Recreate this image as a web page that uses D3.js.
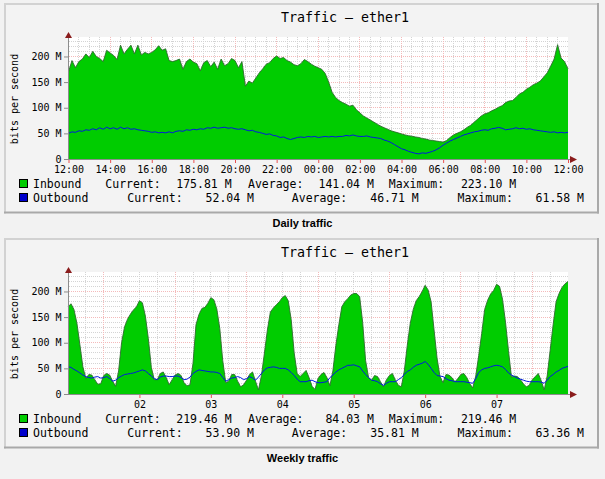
<!DOCTYPE html>
<html><head><meta charset="utf-8">
<script src="https://cdn.jsdelivr.net/npm/d3@7"></script>
<style>
html,body{margin:0;padding:0;background:#f2f2f2;}
svg{display:block;}
text{font-family:"DejaVu Sans Mono",monospace;fill:#000;}
</style></head><body>
<svg id="chart" width="605" height="479"></svg>
<script>
// ---------- data ----------
const titles = ["Traffic – ether1", "Traffic – ether1"];
const captions = ["Daily traffic", "Weekly traffic"];
const yAxisLabel = "bits per second";
const yTicks = [0, 50, 100, 150, 200];

const dailyTickLabels = ["12:00","14:00","16:00","18:00","20:00","22:00","00:00","02:00","04:00","06:00","08:00","10:00","12:00"];
const weeklyTickLabels = ["02","03","04","05","06","07"];

// daily: one sample every 10 minutes from 12:00 to 12:00 (Mbit/s)
const dailyInbound = [170,192,178,190,195,205,198,210,200,196,
 190,212,207,202,194,222,205,214,222,205,
 222,203,208,205,208,213,221,212,215,192,
 190,192,195,175,190,195,189,186,172,188,
 192,180,189,175,195,182,186,196,192,178,
 190,142,152,148,158,168,176,185,188,196,
 201,196,198,192,189,184,182,186,194,190,
 185,181,178,175,167,150,130,120,114,110,
 107,103,105,96,90,84,80,76,72,68,
 64,61,58,55,53,51,49,47,45.5,44.5,
 43,42,40,39,37,36,35,34,33,36,
 42,47,50,53,57,62,66,72,78,84,
 88,90,94,97,101,104,110,113,114,120,
 127,130,136,140,145,148,152,160,168,181,
 195,223.1,197,190,175.81];
const dailyOutbound = [50,53,52,55,54,57,56,59,57,61,
 58,62,59,61,58,62,59,61,58,59,
 57,56,55,54,52,53,51,52,51,53,
 51,54,55,54,57,56,58,57,59,58,
 61,60,62,60,61,62,60,61,59,58,
 59,57,55,56,53,52,50,48,49,46,
 45,42,43,40,38,40,42,43,42,44,
 43,44,42,43,44,43,44,43,44,44,
 46,45,47,45,44,44,45,43,42,41,
 40,37,35,32,28,24,20,18,15,13,
 11,10,12,11,13,15,18,22,27,31,
 35,38,41,44,47,49,51,53,54,56,
 57,56,59,60,61.58,60,57,58,59,61,
 59,60,58,59,57,56,55,54,53,52,
 53,51,52,51,52.04];

// weekly: one sample per hour over 7 days (Mbit/s)
const weeklyInbound = [170,176,165,138,96,53,30,38,37,28,
 19,20,36,40,37,25,15,45,100,131,
 146,156,164,170,182,178,152,108,52,28,
 28,40,43,32,18,28,37,40,36,22,
 16,18,60,135,155,167,169,177,188,184,
 166,128,65,22,25,38,38,25,14,18,
 27,38,43,25,8,36,80,125,160,168,
 174,180,188,192,182,145,80,40,34,40,
 46,32,15,9,30,38,42,32,16,45,
 95,135,170,180,186,193,196,196,190,140,
 65,32,27,36,34,24,14,28,36,40,
 27,17,14,45,95,138,165,182,190,200,
 212,203,180,125,70,34,22,38,37,32,
 24,30,38,40,32,20,12,35,75,118,
 165,183,195,202,214,210,185,140,85,33,
 35,34,28,20,14,17,28,34,40,26,
 8,35,85,135,180,196,208,215,219.46];
const weeklyOutbound = [53,52,48,45,41,37,34,32,31,33,
 34,31,32,34,30,25,27,32,35,38,
 39,40,41,43,45,47,45,40,35,30,
 28,33,35,35,34,34,35,35,32,28,
 29,33,40,44,47,46,45,44,43,43,
 42,40,32,25,28,31,32,34,32,28,
 30,34,31,27,33,40,47,51,52,53,
 52,50,50,50,47,42,36,29,24,24,
 24,26,27,24,22,22,23,24,32,37,
 43,47,50,53,56,56,57,55,53,45,
 38,32,27,26,24,20,17,21,24,24,
 24,28,32,38,44,47,52,56,58,60,
 63.36,58,50,42,36,35,34,30,27,26,
 24,24,24,24,23,22,21,30,42,47,
 50,51,53,55,56,55,53,48,41,37,
 34,31,29,27,25,24,24,24,24,23,
 21,27,34,38,43,46,50,52,53.9];

const seriesNames = ["Inbound", "Outbound"];
const statNames = ["Current:", "Average:", "Maximum:"];
const dailyInStats = ["175.81 M","141.04 M","223.10 M"];
const dailyOutStats = ["52.04 M","46.71 M","61.58 M"];
const weeklyInStats = ["219.46 M","84.03 M","219.46 M"];
const weeklyOutStats = ["53.90 M","35.81 M","63.36 M"];

// ---------- drawing ----------
const svg = d3.select("#chart");
const crisp = v => Math.round(v - 0.5) + 0.5;
const COL = {in:"#00cc00", inEdge:"#2d6b2d", out:"#0018e0", arrow:"#8a1c1c",
             axis:"#8c8c8c", minor:"#d4d4d4", major:"#f4baba", tick:"#e85050"};

function drawPanel(p) {
  const g = svg.append("g").attr("transform", `translate(0,${p.dy})`);
  // panel frame
  g.append("rect").attr("x",5).attr("y",4).attr("width",593).attr("height",208.5).attr("fill","#f3f3f3");
  g.append("line").attr("x1",4).attr("x2",599).attr("y1",4).attr("y2",4).attr("stroke","#d2d2d2").attr("stroke-width",2);
  g.append("line").attr("x1",5).attr("x2",5).attr("y1",3).attr("y2",213.5).attr("stroke","#d2d2d2").attr("stroke-width",2);
  g.append("line").attr("x1",4).attr("x2",599).attr("y1",212.5).attr("y2",212.5).attr("stroke","#a9a9a9").attr("stroke-width",2);
  g.append("line").attr("x1",598).attr("x2",598).attr("y1",3).attr("y2",213.5).attr("stroke","#a9a9a9").attr("stroke-width",2);

  const x = d3.scaleLinear().domain(p.xDomain).range(p.xRange);
  const y = d3.scaleLinear().domain([0, 238]).range([159, 37]);

  // plot background
  g.append("rect").attr("x",69).attr("y",37).attr("width",499).attr("height",122).attr("fill","#fff");

  // grid
  const grid = g.append("g").attr("shape-rendering","crispEdges");
  const vline = (v, c) => grid.append("line").attr("x1",crisp(x(v))).attr("x2",crisp(x(v)))
      .attr("y1",37).attr("y2",159).attr("stroke",c).attr("stroke-dasharray","1,1");
  const hline = (v, c) => grid.append("line").attr("x1",69).attr("x2",568)
      .attr("y1",crisp(y(v))).attr("y2",crisp(y(v))).attr("stroke",c).attr("stroke-dasharray","1,1");
  p.minorX.forEach(v => vline(v, COL.minor));
  d3.range(10, 238, 10).forEach(v => hline(v, COL.minor));
  p.majorX.forEach(v => vline(v, COL.major));
  yTicks.filter(v => v > 0).forEach(v => hline(v, COL.major));

  // inbound area
  const tx = (d, i) => x(i * p.step);
  const area = d3.area().x(tx).y0(y(0)).y1(d => y(d));
  g.append("path").datum(p.inbound).attr("d", area).attr("fill", COL.in);
  g.append("path").datum(p.inbound).attr("d", d3.line().x(tx).y(d => y(d)))
    .attr("fill","none").attr("stroke",COL.inEdge).attr("stroke-width",0.9);
  // outbound line
  g.append("path").datum(p.outbound).attr("d", d3.line().x(tx).y(d => y(d)))
    .attr("fill","none").attr("stroke",COL.out).attr("stroke-width",1);

  // y axis
  const ya = g.append("g").attr("transform","translate(68,0)")
    .call(d3.axisLeft(y).tickValues(yTicks).tickSize(4).tickPadding(2.5)
      .tickFormat(d => d === 0 ? "0" : d + " M"));
  ya.select(".domain").remove();
  ya.selectAll("line").attr("stroke",COL.axis);
  ya.selectAll("text").attr("font-family","DejaVu Sans Mono").attr("font-size",10).attr("fill","#000");

  // x axis
  const xa = g.append("g").attr("transform","translate(0,159)")
    .call(d3.axisBottom(x).tickValues(p.tickValues).tickSize(4).tickPadding(2.5)
      .tickFormat((d, i) => p.tickLabels[i]));
  xa.select(".domain").remove();
  xa.selectAll("line").attr("stroke",COL.tick);
  xa.selectAll("text").attr("font-family","DejaVu Sans Mono").attr("font-size",10).attr("fill","#000");

  // axis lines + arrows
  g.append("line").attr("x1",68.5).attr("x2",68.5).attr("y1",159).attr("y2",36).attr("stroke",COL.axis);
  g.append("line").attr("x1",68).attr("x2",571).attr("y1",159.5).attr("y2",159.5).attr("stroke",COL.axis);
  g.append("path").attr("d","M68.5,32 L72,38 L65,38 Z").attr("fill",COL.arrow);
  g.append("path").attr("d","M577,159.5 L570,156 L570,163 Z").attr("fill",COL.arrow);

  // title
  g.append("text").attr("x",345).attr("y",21.7).attr("text-anchor","middle")
    .attr("font-size",13.3).text(p.title);
  // y label
  g.append("text").attr("transform","translate(17.5,99) rotate(-90)").attr("text-anchor","middle")
    .attr("font-size",10).text(yAxisLabel);

  // legend
  const rows = [
    {name: seriesNames[0], color: COL.in, stats: p.inStats, base: 188,
     nameX: [105.3, 248, 388.8], valEnd: [231.6, 373.9, 516.3]},
    {name: seriesNames[1], color: "#0000cc", stats: p.outStats, base: 202,
     nameX: [127.3, 291.8, 457.5], valEnd: [254, 418.7, 584]}
  ];
  rows.forEach(r => {
    g.append("rect").attr("x",19.5).attr("y",r.base - 8.5).attr("width",8).attr("height",8)
      .attr("fill",r.color).attr("stroke","#000").attr("stroke-width",1);
    g.append("text").attr("x",33).attr("y",r.base).attr("font-size",11.5).text(r.name);
    statNames.forEach((s, k) => {
      g.append("text").attr("x",r.nameX[k]).attr("y",r.base).attr("font-size",11.5).text(s);
      g.append("text").attr("x",r.valEnd[k]).attr("y",r.base).attr("font-size",11.5)
        .attr("text-anchor","end").text(r.stats[k]);
    });
  });

  // caption
  g.append("text").attr("x",302.5).attr("y",226.5).attr("text-anchor","middle")
    .style("font-family","'Liberation Sans', Arial, sans-serif").attr("font-weight","bold")
    .attr("font-size",11).text(p.caption);
}

drawPanel({
  dy: 0, title: titles[0], caption: captions[0],
  xDomain: [0, 24], xRange: [68.5, 568], step: 1/6,
  inbound: dailyInbound, outbound: dailyOutbound,
  tickValues: d3.range(0, 24.01, 2), tickLabels: dailyTickLabels,
  minorX: d3.range(0.5, 24, 0.5), majorX: d3.range(2, 24, 2),
  inStats: dailyInStats, outStats: dailyOutStats
});
drawPanel({
  dy: 235, title: titles[1], caption: captions[1],
  xDomain: [0, 168], xRange: [68, 568], step: 1,
  inbound: weeklyInbound, outbound: weeklyOutbound,
  tickValues: d3.range(24, 168, 24), tickLabels: weeklyTickLabels,
  minorX: d3.range(6, 168, 6), majorX: d3.range(12, 168, 24),
  inStats: weeklyInStats, outStats: weeklyOutStats
});
</script></body></html>
